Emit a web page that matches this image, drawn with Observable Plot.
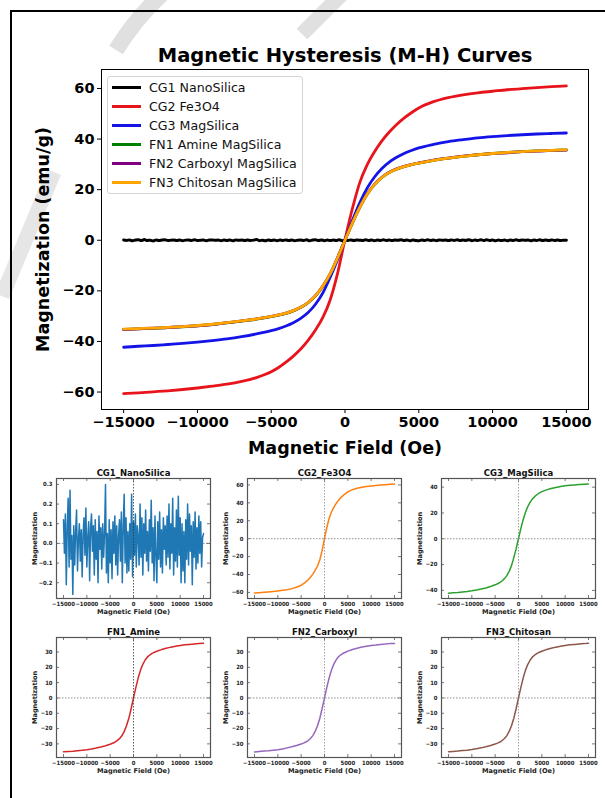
<!DOCTYPE html>
<html>
<head>
<meta charset="utf-8">
<script src="https://cdn.jsdelivr.net/npm/d3@7"></script>
<script src="https://cdn.jsdelivr.net/npm/@observablehq/plot@0.6"></script>
<style>
  html, body { margin: 0; padding: 0; background: #fff; }
  body { width: 605px; height: 798px; overflow: hidden; position: relative; font-family: "DejaVu Sans", sans-serif; }
  #border { position: absolute; left: 10px; top: 10px; width: 700px; height: 900px; border-left: 2px solid #000; border-top: 2px solid #000; }
  #wm { position: absolute; left: 0; top: 0; }
  #legend { position: absolute; left: 107px; top: 76px; width: 196px; height: 118px; border: 1px solid #d4d4d4; border-radius: 3px; background: rgba(255,255,255,0.85); box-sizing: border-box; }
  .item { position: absolute; left: 0; height: 19px; width: 194px; }
  .sw { position: absolute; left: 4px; top: 8px; width: 29px; height: 3px; }
  .lb { position: absolute; left: 41px; top: 0; line-height: 19px; font-size: 12.6px; color: #111; white-space: nowrap; }
  svg.plotsvg { position: absolute; }
</style>
</head>
<body>
<svg id="wm" width="605" height="798">
  <path d="M 116 50 Q 136 18 162 -6" stroke="#e0e0e0" stroke-width="16" fill="none"/>
  <path d="M 302 34 L 342 -6" stroke="#e0e0e0" stroke-width="15" fill="none"/>
  <path d="M 2 296 L 54 172" stroke="#e6e6e6" stroke-width="15" fill="none"/>
</svg>
<div id="border"></div>
<div id="root"></div>
<script>
// ---------------- data ----------------
const seriesNames = ["CG1 NanoSilica", "CG2 Fe3O4", "CG3 MagSilica", "FN1 Amine MagSilica", "FN2 Carboxyl MagSilica", "FN3 Chitosan MagSilica"];
const seriesColors = ["black", "#e8141c", "#1414e6", "green", "purple", "orange"];
const panelTitles = ["CG1_NanoSilica", "CG2_Fe3O4", "CG3_MagSilica", "FN1_Amine", "FN2_Carboxyl", "FN3_Chitosan"];
const panelColors = ["#1f77b4", "#ff7f0e", "#2ca02c", "#d62728", "#9467bd", "#8c564b"];

const fieldOe = [-15000, -14000, -13000, -12000, -11000, -10000, -9000, -8000, -7000, -6000, -5000,
  -4500, -4000, -3500, -3000, -2500, -2000, -1500, -1000, -500, 0, 500, 1000, 1500, 2000, 2500, 3000, 3500, 4000, 4500,
  5000, 6000, 7000, 8000, 9000, 10000, 11000, 12000, 13000, 14000, 15000];

const cg2Fe3O4 = [-60.6, -60.3, -59.9, -59.5, -59.0, -58.4, -57.7, -56.9, -55.8, -54.3, -52.0,
  -50.3, -48.2, -45.8, -43.0, -39.6, -35.5, -30.5, -23.5, -13.0, 0.3, 12.5, 22.8, 29.8, 35.0, 39.3, 42.8, 45.8, 48.3, 50.4,
  52.3, 54.8, 56.4, 57.5, 58.3, 58.9, 59.5, 59.9, 60.3, 60.7, 61.0];

const cg3MagSilica = [-42.3, -41.9, -41.6, -41.2, -40.8, -40.3, -39.7, -39.0, -38.1, -37.0, -35.7,
  -34.9, -33.9, -32.6, -30.9, -28.6, -25.3, -20.8, -14.6, -7.6, 0.2, 7.8, 14.8, 20.6, 25.0, 28.4, 30.9, 32.8, 34.3, 35.5,
  36.5, 37.9, 39.0, 39.8, 40.5, 41.0, 41.4, 41.7, 42.0, 42.2, 42.4];

const fn1Amine = [-35.2, -35.0, -34.8, -34.5, -34.2, -33.8, -33.3, -32.7, -32.0, -31.2, -30.2,
  -29.6, -28.9, -27.9, -26.6, -24.7, -22.0, -18.2, -13.3, -6.9, 0.0, 6.8, 13.0, 18.2, 22.0, 24.8, 26.8, 28.1, 29.1, 29.9,
  30.5, 31.6, 32.5, 33.2, 33.8, 34.3, 34.7, 35.0, 35.3, 35.5, 35.7];

const fn2Carboxyl = [-35.3, -35.0, -34.7, -34.5, -34.1, -33.8, -33.3, -32.6, -31.9, -31.1, -30.1,
  -29.5, -28.8, -27.8, -26.5, -24.6, -21.9, -18.1, -13.2, -6.8, 0.1, 6.9, 13.1, 18.3, 22.1, 24.9, 26.9, 28.2, 29.2, 29.9,
  30.6, 31.7, 32.5, 33.3, 33.8, 34.3, 34.6, 35.0, 35.2, 35.5, 35.6];

const fn3Chitosan = [-35.1, -34.9, -34.7, -34.4, -34.1, -33.7, -33.2, -32.6, -31.9, -31.1, -30.1,
  -29.5, -28.8, -27.8, -26.5, -24.6, -21.9, -18.1, -13.2, -6.9, 0.0, 6.8, 13.0, 18.2, 22.0, 24.8, 26.8, 28.1, 29.1, 29.9,
  30.5, 31.6, 32.5, 33.2, 33.8, 34.3, 34.7, 35.0, 35.3, 35.5, 35.8];

// CG1 NanoSilica: noise (field step 200 Oe from -15000)
const cg1NanoSilica = [
  0.12, -0.05, 0.15, -0.21, 0.08, 0.23, -0.12, 0.27, -0.08, 0.04,
  -0.26, 0.09, -0.11, 0.06, 0.17, -0.14, 0.02, 0.10, -0.09, 0.07,
  -0.17, 0.05, 0.13, -0.06, 0.18, -0.12, 0.03, 0.11, -0.19, 0.08,
  0.15, -0.04, 0.09, -0.16, 0.12, -0.08, 0.06, -0.20, 0.14, -0.03,
  0.08, -0.13, 0.10, -0.07, 0.05, 0.30, -0.15, 0.05, -0.20, 0.12,
  -0.10, 0.07, -0.18, 0.11, -0.05, 0.14, -0.11, 0.09, -0.16, 0.04,
  0.12, -0.09, 0.16, -0.20, 0.08, 0.25, -0.10, 0.13, -0.15, 0.06,
  -0.14, 0.10, -0.08, 0.25, -0.17, 0.11, -0.06, 0.15, -0.12, 0.09,
  0.04, -0.11, 0.20, -0.07, 0.13, -0.16, 0.10, -0.05, 0.17, -0.09,
  0.06, -0.14, 0.12, -0.04, 0.22, -0.10, 0.08, -0.19, 0.14, -0.06,
  -0.20, 0.11, -0.08, 0.16, -0.12, 0.07, -0.15, 0.13, -0.03, 0.09,
  -0.11, 0.14, -0.07, 0.20, -0.13, 0.10, -0.05, 0.23, -0.16, 0.08,
  -0.09, 0.17, -0.12, 0.24, -0.06, 0.13, -0.20, 0.10, -0.14, 0.06,
  -0.20, 0.12, -0.08, 0.20, -0.11, 0.15, -0.04, 0.09, -0.21, 0.11,
  -0.07, 0.16, -0.13, 0.08, -0.10, 0.14, -0.05, 0.11, -0.12, 0.03,
  0.05];
const cg1FieldOe = d3.range(-15000, 15001, 200);

const xTicks = [-15000, -10000, -5000, 0, 5000, 10000, 15000];
const mainYTicks = [-60, -40, -20, 0, 20, 40, 60];
const cg1YTicks = [-0.2, -0.1, 0.0, 0.1, 0.2, 0.3];
const cg2YTicks = [-60, -40, -20, 0, 20, 40, 60];
const cg3YTicks = [-40, -20, 0, 20, 40];
const fnYTicks = [-30, -20, -10, 0, 10, 20, 30];

const mainTitle = "Magnetic Hysteresis (M-H) Curves";
const mainXLabel = "Magnetic Field (Oe)";
const mainYLabel = "Magnetization (emu/g)";
const panelXLabel = "Magnetic Field (Oe)";
const panelYLabel = "Magnetization";

// ---------------- build ----------------
const toRows = (xs, ys) => xs.map((x, i) => ({field: x, m: ys[i]}));
const seriesData = [
  toRows(cg1FieldOe, cg1NanoSilica),
  toRows(fieldOe, cg2Fe3O4),
  toRows(fieldOe, cg3MagSilica),
  toRows(fieldOe, fn1Amine),
  toRows(fieldOe, fn2Carboxyl),
  toRows(fieldOe, fn3Chitosan)
];
const fmtInt = d3.format("d");
const root = document.getElementById("root");

// Main chart
const main = Plot.plot({
  width: 605, height: 434,
  marginLeft: 101, marginRight: 17, marginTop: 39, marginBottom: 55,
  x: {domain: [-16500, 16500]},
  y: {domain: [-66.9, 67.5]},
  style: {fontFamily: "DejaVu Sans", fontWeight: "bold", fontSize: "14.5px", background: "transparent", color: "black", overflow: "visible"},
  marks: [
    ...seriesData.map((d, i) => Plot.line(d, {x: "field", y: "m", stroke: seriesColors[i], strokeWidth: i === 0 ? 3 : 2.8, curve: "monotone-x"})),
    Plot.frame({stroke: "black", strokeWidth: 1}),
    Plot.axisX({ticks: xTicks, tickSize: 4, tickPadding: 3, tickFormat: fmtInt, label: null}),
    Plot.axisY({ticks: mainYTicks, tickSize: 4, tickPadding: 3, tickFormat: fmtInt, label: null}),
    Plot.text([mainTitle], {text: d => d, frameAnchor: "top", dy: -14, lineAnchor: "middle", fontSize: 19.5, fontWeight: "bold"}),
    Plot.text([mainXLabel], {text: d => d, frameAnchor: "bottom", dy: 39, lineAnchor: "middle", fontSize: 17.5, fontWeight: "bold"}),
    Plot.text([mainYLabel], {text: d => d, frameAnchor: "left", dx: -58, rotate: -90, lineAnchor: "middle", textAnchor: "middle", fontSize: 17.5, fontWeight: "bold"})
  ]
});
main.classList.add("plotsvg");
main.style.left = "0px";
main.style.top = "30px";
root.appendChild(main);

// Legend
const legend = document.createElement("div");
legend.id = "legend";
seriesNames.forEach((name, i) => {
  const it = document.createElement("div");
  it.className = "item";
  it.style.top = (0.5 + 19 * i) + "px";
  it.innerHTML = `<div class="sw" style="background:${seriesColors[i]}"></div><div class="lb">${name}</div>`;
  legend.appendChild(it);
});
root.appendChild(legend);

// Small panels
const panelSpecs = [
  {yDomain: [-0.28, 0.33], yTicks: cg1YTicks, yFormat: d3.format(".1f")},
  {yDomain: [-66.8, 67.2], yTicks: cg2YTicks, yFormat: fmtInt},
  {yDomain: [-46.3, 46.7], yTicks: cg3YTicks, yFormat: fmtInt},
  {yDomain: [-38.9, 39.5], yTicks: fnYTicks, yFormat: fmtInt},
  {yDomain: [-38.9, 39.5], yTicks: fnYTicks, yFormat: fmtInt},
  {yDomain: [-38.9, 39.5], yTicks: fnYTicks, yFormat: fmtInt}
];
const colLeft = [56, 247, 441];
const rowTop = [478, 637];
const PW = 154, PH = 120, ML = 40, MR = 8, MT = 14, MB = 22;
const tickC = "#555";
const zeroV = ["#333", "#888", "#888", "#333", "#888", "#888"];

panelSpecs.forEach((s, i) => {
  const p = Plot.plot({
    width: PW + ML + MR, height: PH + MT + MB,
    marginLeft: ML, marginRight: MR, marginTop: MT, marginBottom: MB,
    x: {domain: [-16500, 16500]},
    y: {domain: s.yDomain},
    style: {fontFamily: "DejaVu Sans Condensed", fontWeight: "bold", fontSize: "5.9px", background: "transparent", color: "#222", overflow: "visible"},
    marks: [
      Plot.ruleY([0], {stroke: "#777", strokeDasharray: "1.5,1.5", strokeWidth: 0.8}),
      Plot.line(seriesData[i], {x: "field", y: "m", stroke: panelColors[i], strokeWidth: 1.5}),
      Plot.ruleX([0], {stroke: zeroV[i], strokeDasharray: "1.5,1.5", strokeWidth: 0.8}),
      Plot.frame({stroke: "#555", strokeWidth: 1.2}),
      Plot.tickX(xTicks, {x: d => d, insetTop: PH - 3, stroke: tickC, strokeWidth: 0.8}),
      Plot.tickX(xTicks, {x: d => d, insetBottom: PH - 3, stroke: tickC, strokeWidth: 0.8}),
      Plot.tickY(s.yTicks, {y: d => d, insetRight: PW - 3, stroke: tickC, strokeWidth: 0.8}),
      Plot.tickY(s.yTicks, {y: d => d, insetLeft: PW - 3, stroke: tickC, strokeWidth: 0.8}),
      Plot.axisX({ticks: xTicks, tickSize: 0, tickPadding: 3, tickFormat: fmtInt, label: null}),
      Plot.axisY({ticks: s.yTicks, tickSize: 0, tickPadding: 4, tickFormat: s.yFormat, label: null}),
      Plot.text([panelTitles[i]], {text: d => d, frameAnchor: "top", dy: -5, lineAnchor: "middle", fontSize: 8.5, fontWeight: "bold", fontFamily: "DejaVu Sans", fill: "#111"}),
      Plot.text([panelXLabel], {text: d => d, frameAnchor: "bottom", dy: 13, lineAnchor: "middle", fontSize: 6.6, fontWeight: "bold", fontFamily: "DejaVu Sans"}),
      Plot.text([panelYLabel], {text: d => d, frameAnchor: "left", dx: -22, rotate: -90, lineAnchor: "middle", textAnchor: "middle", fontSize: 6.6, fontWeight: "bold", fontFamily: "DejaVu Sans"})
    ]
  });
  p.classList.add("plotsvg");
  p.style.left = (colLeft[i % 3] - ML) + "px";
  p.style.top = (rowTop[Math.floor(i / 3)] - MT) + "px";
  root.appendChild(p);
});
</script>
</body>
</html>
